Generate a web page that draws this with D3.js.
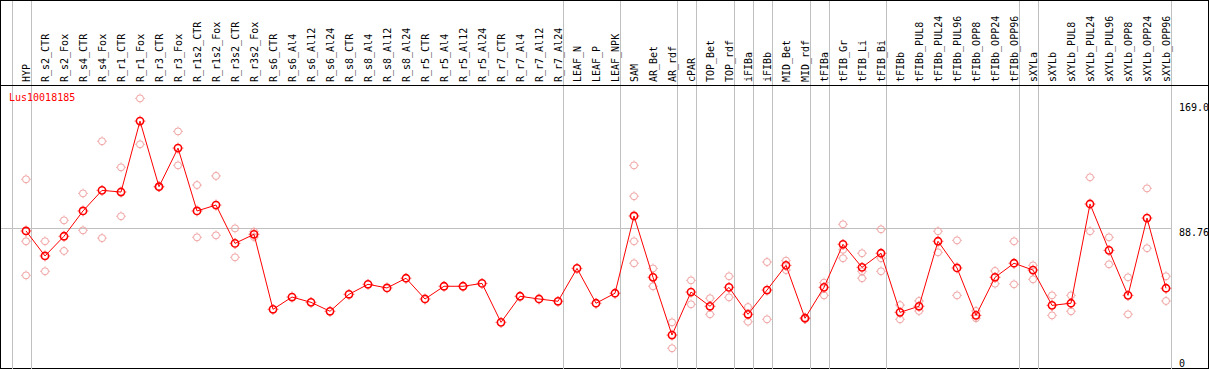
<!DOCTYPE html>
<html>
<head>
<meta charset="utf-8">
<script src="https://d3js.org/d3.v7.min.js"></script>
<style>
  body { margin: 0; background: #fff; }
  text { font-family: "DejaVu Sans Mono", monospace; font-size: 10px; }
</style>
</head>
<body>
<script>
// categories (one per column)
var samples = ["HYP","R_s2_CTR","R_s2_Fox","R_s4_CTR","R_s4_Fox","R_r1_CTR","R_r1_Fox","R_r3_CTR","R_r3_Fox",
  "R_r1s2_CTR","R_r1s2_Fox","R_r3s2_CTR","R_r3s2_Fox","R_s6_CTR","R_s6_Al4","R_s6_Al12","R_s6_Al24",
  "R_s8_CTR","R_s8_Al4","R_s8_Al12","R_s8_Al24","R_r5_CTR","R_r5_Al4","R_r5_Al12","R_r5_Al24",
  "R_r7_CTR","R_r7_Al4","R_r7_Al12","R_r7_Al24","LEAF_N","LEAF_P","LEAF_NPK","SAM","AR_Bet","AR_rdf",
  "cPAR","TOP_Bet","TOP_rdf","iFIBa","iFIBb","MID_Bet","MID_rdf","tFIBa","tFIB_Gr","tFIB_Li","tFIB_Bi",
  "tFIBb","tFIBb_PUL8","tFIBb_PUL24","tFIBb_PUL96","tFIBb_OPP8","tFIBb_OPP24","tFIBb_OPP96",
  "sXYLa","sXYLb","sXYLb_PUL8","sXYLb_PUL24","sXYLb_PUL96","sXYLb_OPP8","sXYLb_OPP24","sXYLb_OPP96"];

// mean expression per sample
var means = [87.0,70.5,83.5,100.2,113.8,112.7,159.5,116.2,141.7,
  100.2,104.1,78.8,84.8,35.3,43.4,39.9,34.0,
  45.2,51.8,49.4,55.8,42.1,50.5,50.5,52.4,
  26.7,43.9,42.1,40.6,62.3,39.3,45.9,96.9,56.4,18.3,
  46.7,37.3,49.8,32.0,48.0,64.3,29.4,49.8,78.2,63.0,72.3,
  33.3,37.3,80.2,62.6,31.3,56.4,65.7,
  61.2,37.9,39.3,104.8,74.2,44.5,95.5,49.2];

// replicate values per sample
var replicates = [[121.1,80.2,57.7],[80.2,60.4],[94.0,73.8],[111.8,87.4],[146.2,82.3],[129.0,96.7],[174.5,144.2],[116.5,115.9],[152.7,130.3],
  [117.3,82.8],[123.3,84.1],[88.7,69.6],[86.5,83.0],[],[],[],[],
  [],[],[],[],[],[],[],[],
  [],[],[],[],[],[],[],[130.3,109.9,80.2,65.7],[62.3,50.5],[26.7,9.6],
  [54.4,38.6],[42.6,32.0],[57.1,43.2],[36.8,27.1],[66.5,28.7],[67.4,61.2],[29.9,28.9],[52.9,44.5],[91.4,74.6,69.0],[72.3,60.4,55.8],[88.1,69.0,60.4],
  [38.1,28.7],[40.8,34.2],[86.8,72.9],[80.8,44.5],[34.2,29.4],[60.6,52.2],[80.2,51.8],
  [64.3,55.1],[44.5,31.3],[44.5,34.0],[122.4,86.8],[82.8,65.0],[56.4,32.0],[115.1,75.6],[57.1,40.8]];

// right axis labels and group separators (index of the column each line follows)
var axisLabels = ["169.0", "88.76", "0"];
var axisValues = [169.0, 88.76, 0];
var separators = [-1, 0, 28, 31, 34, 35, 37, 38, 39, 41, 42, 45, 52, 53, 60];
var geneName = "Lus10018185";

var width = 1209, height = 370;
var svg = d3.select("body").append("svg")
  .attr("width", width).attr("height", height);

var x = d3.scaleLinear().domain([0, samples.length - 1]).range([26, 1166]);
var y = d3.scaleLinear().domain([0, 169]).range([362.8, 106.7]);

var gray = "#c0c0c0";

// frame
svg.append("rect").attr("x", 0.5).attr("y", 0.5).attr("width", width - 1).attr("height", 368)
  .attr("fill", "none").attr("stroke", "#000");

// vertical separators
svg.append("g").selectAll("line").data(separators).enter().append("line")
  .attr("x1", function (d) { return Math.round(x(d + 0.24)) + 0.5; })
  .attr("x2", function (d) { return Math.round(x(d + 0.24)) + 0.5; })
  .attr("y1", 1).attr("y2", 369)
  .attr("stroke", gray);

// middle gridline
svg.append("line")
  .attr("x1", 1).attr("x2", Math.round(x(60.24)) + 0.5)
  .attr("y1", Math.round(y(88.76)) + 0.5).attr("y2", Math.round(y(88.76)) + 0.5)
  .attr("stroke", gray);

// header separator
svg.append("line").attr("x1", 0).attr("x2", width).attr("y1", 85.5).attr("y2", 85.5)
  .attr("stroke", "#000");

// sample labels
svg.append("g").selectAll("text").data(samples).enter().append("text")
  .attr("transform", function (d, i) { return "translate(" + (x(i) + 3.5) + ",82) rotate(-90)"; })
  .attr("fill", "#000")
  .text(function (d) { return d; });

// right axis labels
svg.append("g").selectAll("text").data(axisLabels).enter().append("text")
  .attr("x", 1179)
  .attr("y", function (d, i) { return y(axisValues[i]) + (i == 1 ? 8 : 4); })
  .attr("fill", "#000")
  .text(function (d) { return d; });

// gene name
svg.append("text").attr("x", 9).attr("y", 101).attr("fill", "#ff0000").text(geneName);

function marker(g, cx, cy, r, col, sw) {
  g.append("circle").attr("cx", cx).attr("cy", cy).attr("r", r)
    .attr("fill", "none").attr("stroke", col).attr("stroke-width", sw);
  var o = r + sw / 2;
  [[0, -1], [0, 1], [-1, 0], [1, 0]].forEach(function (p) {
    g.append("line")
      .attr("x1", cx + p[0] * o).attr("y1", cy + p[1] * o)
      .attr("x2", cx + p[0] * (o + 0.9)).attr("y2", cy + p[1] * (o + 0.9))
      .attr("stroke", col).attr("stroke-width", 0.9);
  });
}

// replicate points
var reps = svg.append("g");
replicates.forEach(function (vals, i) {
  vals.forEach(function (v) { marker(reps, x(i), y(v), 3.5, "#f0a0a0", 1); });
});

// mean line
svg.append("path").datum(means)
  .attr("fill", "none").attr("stroke", "#ff0000").attr("stroke-width", 1)
  .attr("d", d3.line().x(function (d, i) { return x(i); }).y(function (d) { return y(d); }));

// mean points
var mg = svg.append("g");
means.forEach(function (v, i) { marker(mg, x(i), y(v), 3.6, "#ff0000", 1.6); });
</script>
</body>
</html>
